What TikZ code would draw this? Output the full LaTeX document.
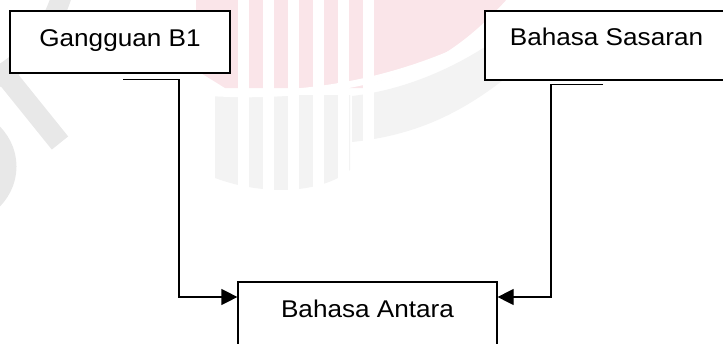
\documentclass[tikz,border=0pt]{standalone}
\usepackage{fontspec}
\newfontfamily\labelfont[FakeStretch=1.08]{Liberation Sans}
\usetikzlibrary{arrows.meta}
\definecolor{wmpink}{RGB}{250,229,233}
\definecolor{wmgrey}{RGB}{232,232,232}
\definecolor{wmlight}{RGB}{243,243,243}
\tikzset{
  box/.style={draw=black, line width=1.2pt, fill=white, inner sep=0pt,
    font=\labelfont\fontsize{24.2}{29}\selectfont, text height=17.3pt},
  conn/.style={draw=black, line width=1.2pt, -{Triangle[length=16pt,width=16pt]}},
}
\begin{document}
\begin{tikzpicture}[x=1pt,y=-1pt]
\useasboundingbox (0,0) rectangle (723,343);
\clip (0,0) rectangle (723,343);

% faint emblem in the background
\fill[wmpink] (196,-2) -- (508,-2) .. controls (470,40) and (430,70) .. (373,82)
  -- (373,88) -- (225,88) -- (196,70) -- cycle;
\fill[wmlight] (215,95) -- (350,95) -- (350,170) .. controls (320,195) and (260,195) .. (215,178) -- cycle;
\fill[wmlight] (352,96) .. controls (420,88) and (480,55) .. (525,18)
  -- (525,62) .. controls (470,110) and (420,135) .. (352,142) -- cycle;
\foreach \x in {238,263,288,313,338,363}
  \fill[white] (\x,-2) rectangle ++(11,202);
\fill[white] (196,88) .. controls (300,98) and (420,80) .. (530,8) -- (530,14)
  .. controls (420,88) and (300,104) .. (196,95) -- cycle;
\draw[wmgrey, line width=20pt] (62,-5) .. controls (48,38) and (25,62) .. (-8,80);
\draw[wmgrey, line width=21pt] (6,76) -- (60,143);
\draw[wmgrey, line width=18pt] (-12,128) .. controls (14,148) and (14,185) .. (-12,205);

% boxes
\node[box, minimum width=220pt, minimum height=62pt, text depth=9.3pt] (g) at (120,42) {Gangguan B1};
\node[box, minimum width=243pt, minimum height=69pt, text depth=18.3pt] (s) at (606.5,45.5) {Bahasa Sasaran};
\node[box, minimum width=259pt, minimum height=70pt, text depth=17.3pt] (a) at (367.5,317) {Bahasa Antara};

% connectors
\coordinate (g0) at (123,79.3);
\coordinate (gk) at (179,297);
\coordinate (s0) at (603,84.5);
\coordinate (sk) at (551,297);
\draw[conn] (g0) -| (gk) -- (gk -| a.west);
\draw[conn] (s0) -| (sk) -- (sk -| a.east);
\end{tikzpicture}
\end{document}
